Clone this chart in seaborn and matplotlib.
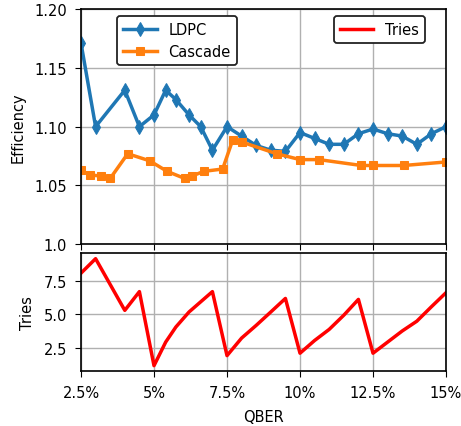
import numpy as np
import pandas as pd
import seaborn as sns
import matplotlib.pyplot as plt
from matplotlib.lines import Line2D

# LDPC efficiency (and tries at the same QBER points)
qber_ldpc = [2.5, 3.0, 4.0, 4.5, 5.0, 5.4, 5.75, 6.2, 6.6, 7.0, 7.5, 8.0, 8.5,
             9.0, 9.5, 10.0, 10.5, 11.0, 11.5, 12.0, 12.5, 13.0, 13.5, 14.0, 14.5, 15.0]
eff_ldpc = [1.171, 1.100, 1.131, 1.100, 1.110, 1.131, 1.123, 1.110, 1.100, 1.080, 1.100, 1.092, 1.084,
            1.080, 1.079, 1.095, 1.090, 1.085, 1.085, 1.094, 1.098, 1.094, 1.092, 1.085, 1.094, 1.100]
tries = [8.08, 9.16, 5.30, 6.70, 1.17, 2.93, 4.06, 5.18, 5.94, 6.70, 1.92, 3.23, 4.18,
         5.18, 6.19, 2.10, 3.05, 3.88, 4.94, 6.12, 2.10, 2.93, 3.76, 4.49, 5.57, 6.62]

# Cascade efficiency
qber_cascade = [2.5, 2.8, 3.2, 3.5, 4.1, 4.85, 5.45, 6.05, 6.3, 6.7, 7.35, 7.7, 8.0,
                9.2, 10.0, 10.65, 12.1, 12.5, 13.55, 15.0]
eff_cascade = [1.063, 1.059, 1.058, 1.056, 1.077, 1.071, 1.062, 1.056, 1.058, 1.062, 1.064, 1.089, 1.087,
               1.077, 1.072, 1.072, 1.067, 1.067, 1.067, 1.070]

xticks = [2.5, 5, 7.5, 10, 12.5, 15]
xticklabels = ['2.5%', '5%', '7.5%', '10%', '12.5%', '15%']

plt.rcParams['font.family'] = ['DejaVu Sans']
plt.rcParams['font.size'] = 10.5
plt.rcParams['xtick.major.size'] = 4.5
plt.rcParams['ytick.major.size'] = 4.5
plt.rcParams['xtick.major.pad'] = 5.5
plt.rcParams['ytick.major.pad'] = 5.5
plt.rcParams['axes.labelpad'] = 6.5

fig, (ax1, ax2) = plt.subplots(2, 1, sharex=True, figsize=(4.61, 4.27), dpi=100,
                               gridspec_kw={'height_ratios': [2, 1]})
fig.subplots_adjust(left=0.1757, right=0.9675, top=0.9766, bottom=0.1288, hspace=0.051)

sns.lineplot(x=qber_ldpc, y=eff_ldpc, ax=ax1, color='#1f77b4', lw=2.5,
             marker='d', markersize=7.5, markeredgecolor='#1f77b4', label='LDPC')
sns.lineplot(x=qber_cascade, y=eff_cascade, ax=ax1, color='#ff7f0e', lw=2.5,
             marker='s', markersize=6, markeredgecolor='#ff7f0e', label='Cascade')
sns.lineplot(x=qber_ldpc, y=tries, ax=ax2, color='red', lw=2.5)

ax1.set_ylim(1.0, 1.2)
ax1.set_yticks([1.0, 1.05, 1.1, 1.15, 1.2])
ax1.set_yticklabels(['1.0', '1.05', '1.10', '1.15', '1.20'])
ax1.set_ylabel('Efficiency')
ax1.grid(True, color='#b0b0b0', lw=1)
ax1.tick_params(labelbottom=False)

leg1 = ax1.legend(loc='upper left', bbox_to_anchor=(0.08, 1), edgecolor='#222222',
                  framealpha=1, handlelength=2.3)
leg1.get_frame().set_linewidth(1.3)
ax1.add_artist(leg1)
tries_handle = Line2D([], [], color='red', lw=2.5, label='Tries')
leg2 = ax1.legend(handles=[tries_handle], loc='upper right', bbox_to_anchor=(0.962, 1),
                  edgecolor='#222222', framealpha=1, handlelength=2.3)
leg2.get_frame().set_linewidth(1.3)

ax2.set_xlim(2.5, 15)
ax2.set_xticks(xticks)
ax2.set_xticklabels(xticklabels)
ax2.set_yticks([2.5, 5.0, 7.5])
ax2.set_yticklabels(['2.5', '5.0', '7.5'])
ax2.set_ylabel('Tries')
ax2.set_xlabel('QBER')
ax2.grid(True, color='#b0b0b0', lw=1)

for ax in (ax1, ax2):
    for s in ax.spines.values():
        s.set_linewidth(1.2)

plt.savefig('out.png', dpi=100)
